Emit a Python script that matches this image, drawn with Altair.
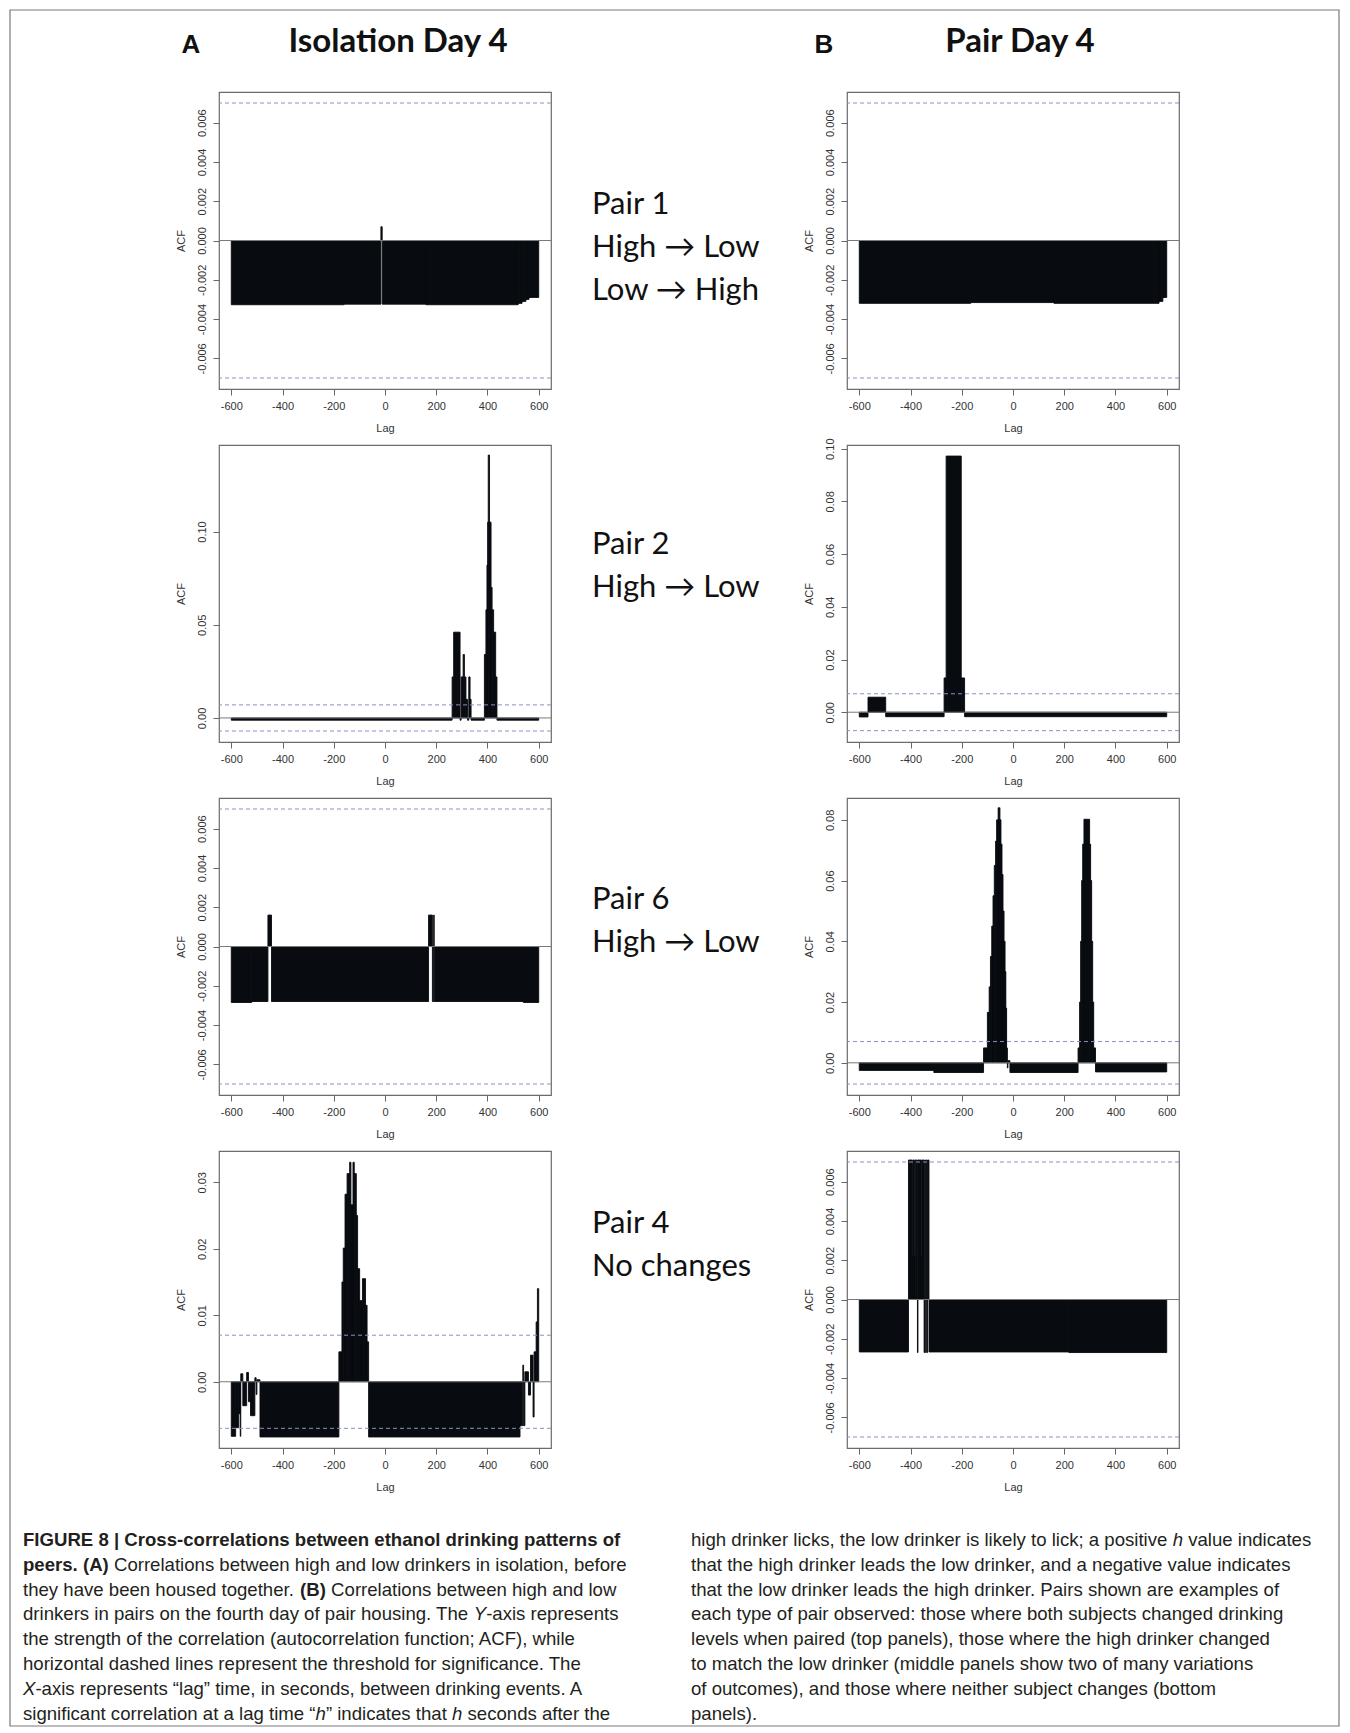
import altair as alt
import pandas as pd

# ---------------- values ----------------
LAG_TICKS = [-600, -400, -200, 0, 200, 400, 600]
LAG_RANGE = [-648, 648]
SIG = 0.007  # significance threshold (dashed lines)

SMALL_TICKS = [-0.006, -0.004, -0.002, 0.0, 0.002, 0.004, 0.006]
SMALL_RANGE = [-0.00756, 0.00756]

# ---- Column A : Isolation Day 4 ----
A1_START = [-600, -160, -16, -11, 160, 520, 535, 550, 562]
A1_END = [-160, -16, -11, 160, 520, 535, 550, 562, 600]
A1_ACF = [-0.00327, -0.00324, 0.0007, -0.00324, -0.00327, -0.0032, -0.0031, -0.0030, -0.0029]

A2_START = [-600, 262, 268, 293, 297, 305, 310, 316, 322, 327, 332, 336, 388, 394, 398, 401, 403, 408, 414, 418, 424, 432, 437]
A2_END = [262, 268, 293, 297, 305, 310, 316, 322, 327, 332, 336, 388, 394, 398, 401, 403, 408, 414, 418, 424, 432, 437, 600]
A2_ACF = [-0.0012, 0.022, 0.046, -0.0012, 0.022, 0.034, 0.022, 0.010, -0.0012, 0.022, 0.010, -0.0012,
          0.034, 0.058, 0.082, 0.105, 0.141, 0.105, 0.070, 0.058, 0.046, 0.022, -0.0012]
A2_RANGE = [-0.0129, 0.1464]
A2_TICKS = [0.0, 0.05, 0.10]

A3_START = [-600, -520, -457, -443, 170, 185, 190, 192, 540]
A3_END = [-520, -457, -443, 170, 185, 190, 192, 540, 600]
A3_ACF = [-0.00285, -0.0028, 0.0016, -0.0028, 0.0016, -0.0028, 0.0016, -0.0028, -0.00285]

A4_START = [-600, -583, -571, -565, -563, -555, -540, -533, -525, -508, -503, -500, -488,
            -180, -168, -163, -156, -148, -138, -133, -125, -120, -112, -107, -99, -88, -76, -70,
            -64, 527, 538, 541, 546, 560, 568, 578, 582, 590, 595]
A4_END = [-583, -571, -565, -563, -555, -540, -533, -525, -508, -503, -500, -488, -180,
          -168, -163, -156, -148, -138, -133, -125, -120, -112, -107, -99, -88, -76, -70, -64,
          527, 538, 541, 546, 560, 568, 578, 582, 590, 595, 600]
A4_ACF = [-0.0082, -0.0069, -0.0048, -0.0082, 0.0012, -0.0036, 0.0014, -0.0030, -0.0051, 0.0006, -0.0019, 0.0003, -0.0083,
          0.0045, 0.0150, 0.0201, 0.0282, 0.0313, 0.0330, 0.0266, 0.0330, 0.0313, 0.0250, 0.0170, 0.0122, 0.0155, 0.0115, 0.0060,
          -0.0083, -0.0066, 0.0025, -0.0066, 0.0015, -0.0020, 0.0040, -0.0053, 0.0045, 0.0090, 0.0140]
A4_RANGE = [-0.00996, 0.0347]
A4_TICKS = [0.0, 0.01, 0.02, 0.03]

# ---- Column B : Pair Day 4 ----
B1_START = [-600, -165, 160, 570, 585]
B1_END = [-165, 160, 570, 585, 600]
B1_ACF = [-0.0032, -0.00316, -0.0032, -0.0031, -0.0029]

B2_START = [-600, -566, -497, -269, -261, -202, -189]
B2_END = [-566, -497, -269, -261, -202, -189, 600]
B2_ACF = [-0.0018, 0.0057, -0.0017, 0.0130, 0.0972, 0.0130, -0.0017]
B2_RANGE = [-0.0113, 0.1014]
B2_TICKS = [0.0, 0.02, 0.04, 0.06, 0.08, 0.10]

B3_START = [-600, -309, -115, -100, -93, -88, -83, -78, -73, -68, -64, -58, -56, -53, -51, -47, -43, -39, -35, -31, -28, -25, -22, -20,
            -12, 254, 260, 264, 268, 272, 277, 299, 303, 307, 311, 315, 322]
B3_END = [-309, -115, -100, -93, -88, -83, -78, -73, -68, -64, -58, -56, -53, -51, -47, -43, -39, -35, -31, -28, -25, -22, -20, -12,
          254, 260, 264, 268, 272, 277, 299, 303, 307, 311, 315, 322, 600]
B3_ACF = [-0.0025, -0.0032, 0.0049, 0.0166, 0.025, 0.035, 0.045, 0.055, 0.065, 0.073, 0.080, 0.084, 0.080, 0.084, 0.080,
          0.072, 0.062, 0.050, 0.040, 0.030, 0.018, 0.0049, -0.0017, 0.0007,
          -0.0032, 0.0049, 0.020, 0.040, 0.060, 0.072, 0.0802, 0.072, 0.060, 0.040, 0.020, 0.0049, -0.0030]
B3_RANGE = [-0.0106, 0.0872]
B3_TICKS = [0.0, 0.02, 0.04, 0.06, 0.08]

B4_START = [-600, -408, -394, -392, -384, -382, -373, -371, -358, -356, -347, -345, -341, -339, -336, -334, -328, 218]
B4_END = [-408, -394, -392, -384, -382, -373, -371, -358, -356, -347, -345, -341, -339, -336, -334, -328, 218, 600]
B4_ACF = [-0.00267, 0.0071, 0.0022, 0.0071, 0.0022, 0.0071, -0.0027, 0.0071, 0.0022, 0.0071, -0.0027, 0.0071,
          -0.0027, 0.0071, -0.0027, 0.0071, -0.00267, -0.0027]

# ---------------- texts ----------------
HEAD_A = ["A", "Isolation Day 4"]
HEAD_B = ["B", "Pair Day 4"]
PAIR_LABELS = [["Pair 1", "High \u2192 Low", "Low \u2192 High"],
               ["Pair 2", "High \u2192 Low"],
               ["Pair 6", "High \u2192 Low"],
               ["Pair 4", "No changes"]]
PAIR_LABEL_Y = [[204, 247, 290], [544, 587], [899, 942], [1223, 1266]]

LEFT_LINES = [
    [("FIGURE 8 | Cross-correlations between ethanol drinking patterns of", "b")],
    [("peers. (A)", "b"), (" Correlations between high and low drinkers in isolation, before", "r")],
    [("they have been housed together. ", "r"), ("(B)", "b"), (" Correlations between high and low", "r")],
    [("drinkers in pairs on the fourth day of pair housing. The ", "r"), ("Y", "i"), ("-axis represents", "r")],
    [("the strength of the correlation (autocorrelation function; ACF), while", "r")],
    [("horizontal dashed lines represent the threshold for significance. The", "r")],
    [("X", "i"), ("-axis represents \u201clag\u201d time, in seconds, between drinking events. A", "r")],
    [("significant correlation at a lag time \u201c", "r"), ("h", "i"), ("\u201d indicates that ", "r"),
     ("h", "i"), (" seconds after the", "r")],
]
RIGHT_LINES = [
    [("high drinker licks, the low drinker is likely to lick; a positive ", "r"), ("h", "i"), (" value indicates", "r")],
    [("that the high drinker leads the low drinker, and a negative value indicates", "r")],
    [("that the low drinker leads the high drinker. Pairs shown are examples of", "r")],
    [("each type of pair observed: those where both subjects changed drinking", "r")],
    [("levels when paired (top panels), those where the high drinker changed", "r")],
    [("to match the low drinker (middle panels show two of many variations", "r")],
    [("of outcomes), and those where neither subject changes (bottom", "r")],
    [("panels).", "r")],
]

# ---------------- layout / style ----------------
W, H = 332, 297
ROW_TOP = [91, 444, 797, 1150]
COL_LEFT = [218, 846]
AXF = "Liberation Sans Narrow, Liberation Sans, Arial, sans-serif"
CAPF = "Liberation Sans, Arial, sans-serif"
SLIDEF = "Lato, Open Sans, DejaVu Sans, sans-serif"
ONE = alt.Data(values=[{"k": 0}])
BAR_COLOR = "#080b10"

_REG = {}
_REG.update(dict(zip("ABCDEFGHIJKLMNOPQRSTUVWXYZ",
                     [667, 667, 722, 722, 667, 611, 778, 722, 278, 500, 667, 556, 833, 722, 778, 667, 778, 722, 667, 611, 722, 667, 944, 667, 667, 611])))
_REG.update(dict(zip("abcdefghijklmnopqrstuvwxyz",
                     [556, 556, 500, 556, 556, 278, 556, 556, 222, 222, 500, 222, 833, 556, 556, 556, 556, 333, 500, 278, 556, 500, 722, 500, 500, 500])))
_REG.update({c: 556 for c in "0123456789"})
_REG.update({" ": 278, "(": 333, ")": 333, ".": 278, ",": 278, ";": 278, ":": 278, "-": 333, "|": 260,
             "\u201c": 333, "\u201d": 333})
_BOLD = dict(_REG)
_BOLD.update(dict(zip("ABCDEFGHIJKLMNOPQRSTUVWXYZ",
                      [722, 722, 722, 722, 667, 611, 778, 722, 278, 556, 722, 611, 833, 722, 778, 667, 778, 722, 667, 611, 722, 667, 944, 667, 667, 611])))
_BOLD.update(dict(zip("abcdefghijklmnopqrstuvwxyz",
                      [556, 611, 556, 611, 556, 333, 611, 611, 278, 278, 556, 278, 889, 611, 611, 611, 611, 389, 556, 333, 611, 556, 778, 556, 556, 500])))
_BOLD.update({"|": 280, ";": 333, ":": 333})


def tw(s, style, size):
    table = _BOLD if style == "b" else _REG
    return sum(table.get(c, 556) for c in s) * size / 1000.0


def text(s, x, y, size, font, weight="normal", style="normal", align="left", color="#111111"):
    return alt.Chart(ONE).mark_text(
        font=font, fontSize=size, fontWeight=weight, fontStyle=style, align=align,
        baseline="middle", color=color
    ).encode(x=alt.value(x), y=alt.value(y), text=alt.value(s))


def caption_layers(ox, oy):
    size, lead, y0 = 18.6, 24.8, 1539
    out = []
    for lines, x0 in ((LEFT_LINES, 22), (RIGHT_LINES, 690)):
        for k, line in enumerate(lines):
            x = x0
            y = y0 + lead * k
            for seg, st in line:
                nlead = len(seg) - len(seg.lstrip())
                body = seg.strip()
                if body:
                    xs = x + tw(seg[:nlead], st, size)
                    out.append(text(body, xs - ox, y - oy, size, CAPF,
                                    weight="bold" if st == "b" else "normal",
                                    style="italic" if st == "i" else "normal",
                                    color="#231f20"))
                x += tw(seg, st, size)
    return out


def acf_panel(start, end, acf, yrange, yticks, yfmt, extra):
    bars_df = pd.DataFrame({"lag0": start, "lag1": end, "acf": acf})
    bars_df["base"] = 0.0
    zero_df = pd.DataFrame({"acf": [0.0]})
    ci_df = pd.DataFrame({"acf": [SIG, -SIG]})
    xs = alt.Scale(domain=LAG_RANGE, nice=False, zero=False)
    ys = alt.Scale(domain=yrange, nice=False, zero=False)
    xax = alt.Axis(values=LAG_TICKS, title="Lag", titleX=W / 2, titleY=39, titleAlign="center",
                   titleBaseline="middle", labelBaseline="top", labelPadding=5, tickSize=6,
                   labelFlush=False, labelOverlap=False,
                   labelExpr="(datum.value < 0 ? '-' : '') + abs(datum.value)")
    yax = alt.Axis(values=yticks, title="ACF", titleAngle=270, titleX=-38, titleY=H / 2,
                   titleAlign="center", titleBaseline="middle", labelAngle=270, labelAlign="center",
                   labelBaseline="alphabetic", labelPadding=8, tickSize=6, labelFlush=False,
                   labelOverlap=False,
                   labelExpr="(datum.value < -1e-9 ? '-' : '') + format(abs(datum.value), '" + yfmt + "')")
    Y = alt.Y("acf:Q", scale=ys, axis=yax)
    bars = alt.Chart(bars_df).mark_rect(color=BAR_COLOR, stroke=BAR_COLOR, strokeWidth=0.9, clip=True).encode(
        x=alt.X("lag0:Q", scale=xs, axis=xax), x2="lag1:Q", y=Y, y2="base:Q")
    zero = alt.Chart(zero_df).mark_rule(color="#7a7a7a", strokeWidth=1).encode(y=Y)
    ci = alt.Chart(ci_df).mark_rule(color="#8a90c4", strokeWidth=1, strokeDash=[4, 3]).encode(y=Y)
    return alt.layer(bars, zero, ci, *extra).properties(width=W, height=H)


def middle_labels(row):
    ox, oy = COL_LEFT[0], ROW_TOP[row]
    return [text(s, 591 - ox, y - oy, 31, SLIDEF, color="#111111")
            for s, y in zip(PAIR_LABELS[row], PAIR_LABEL_Y[row])]


# extra layers
oxA, oyA = COL_LEFT[0], ROW_TOP[0]
oxB = COL_LEFT[1]
border = alt.Chart(ONE).mark_rect(filled=False, stroke="#7a7a7a", strokeWidth=1.2).encode(
    x=alt.value(-209), x2=alt.value(1120), y=alt.value(-82), y2=alt.value(1634))
headA = [text(HEAD_A[0], 190 - oxA, 44 - oyA, 26, CAPF, weight="bold", align="center"),
         text(HEAD_A[1], 397 - oxA, 41 - oyA, 33, SLIDEF, weight="bold", align="center")]
headB = [text(HEAD_B[0], 823 - oxB, 44 - oyA, 26, CAPF, weight="bold", align="center"),
         text(HEAD_B[1], 1019 - oxB, 41 - oyA, 33, SLIDEF, weight="bold", align="center")]

A1 = acf_panel(A1_START, A1_END, A1_ACF, SMALL_RANGE, SMALL_TICKS, ".3f", [border] + headA + middle_labels(0))
B1 = acf_panel(B1_START, B1_END, B1_ACF, SMALL_RANGE, SMALL_TICKS, ".3f", headB)
A2 = acf_panel(A2_START, A2_END, A2_ACF, A2_RANGE, A2_TICKS, ".2f", middle_labels(1))
B2 = acf_panel(B2_START, B2_END, B2_ACF, B2_RANGE, B2_TICKS, ".2f", [])
A3 = acf_panel(A3_START, A3_END, A3_ACF, SMALL_RANGE, SMALL_TICKS, ".3f", middle_labels(2))
B3 = acf_panel(B3_START, B3_END, B3_ACF, B3_RANGE, B3_TICKS, ".2f", [])
A4 = acf_panel(A4_START, A4_END, A4_ACF, A4_RANGE, A4_TICKS, ".2f",
               middle_labels(3) + caption_layers(COL_LEFT[0], ROW_TOP[3]))
B4 = acf_panel(B4_START, B4_END, B4_ACF, SMALL_RANGE, SMALL_TICKS, ".3f", [])

chart = alt.concat(A1, B1, A2, B2, A3, B3, A4, B4, columns=2,
                   spacing={"row": 56, "column": 296}, bounds="flush").properties(
    padding=0
).configure_view(
    stroke="#6b6b6b", strokeWidth=1.2
).configure_axis(
    labelFont=AXF, labelFontSize=11, labelColor="#333333", titleFont=AXF, titleFontSize=11,
    titleFontWeight="normal", titleColor="#333333", tickColor="#666666", tickWidth=1,
    domain=False, grid=False
)

chart.save("out.html", embed_options={"renderer": "svg", "actions": False})
